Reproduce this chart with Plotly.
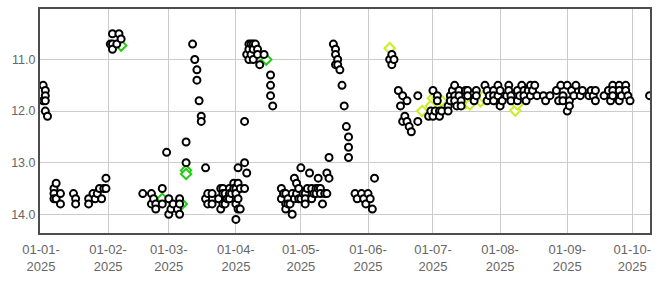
import plotly.graph_objects as go

# ---- circle series (date -> values) ----
circle_groups = [
    ("2025-01-02", [11.5, 11.8]), ("2025-01-03", [11.6, 11.7, 11.8, 12.0]), ("2025-01-04", [12.1]),
    ("2025-01-07", [13.5, 13.6, 13.7]), ("2025-01-08", [13.4, 13.7]), ("2025-01-10", [13.6, 13.8]),
    ("2025-01-16", [13.6]), ("2025-01-17", [13.7, 13.8]), ("2025-01-23", [13.7, 13.8]),
    ("2025-01-25", [13.6]), ("2025-01-26", [13.7]), ("2025-01-27", [13.6]), ("2025-01-28", [13.5]),
    ("2025-01-29", [13.7]), ("2025-01-30", [13.5]), ("2025-01-31", [13.3, 13.5]),
    ("2025-02-02", [10.7]), ("2025-02-03", [10.5, 10.7, 10.8]), ("2025-02-05", [10.7]),
    ("2025-02-06", [10.5]), ("2025-02-07", [10.6]),
    ("2025-02-17", [13.6]), ("2025-02-21", [13.6, 13.8]), ("2025-02-22", [13.7]),
    ("2025-02-23", [13.8, 13.9]), ("2025-02-26", [13.5, 13.8]), ("2025-02-28", [12.8]),
    ("2025-03-01", [13.7, 14.0]), ("2025-03-02", [13.9]), ("2025-03-03", [13.8]),
    ("2025-03-05", [13.9]), ("2025-03-06", [13.7, 13.8, 14.0]), ("2025-03-09", [12.6, 13.0]),
    ("2025-03-12", [10.7]), ("2025-03-13", [11.0]), ("2025-03-14", [11.2, 11.4]),
    ("2025-03-15", [11.8]), ("2025-03-16", [12.1, 12.2]),
    ("2025-03-18", [13.1, 13.7]), ("2025-03-19", [13.6, 13.8]), ("2025-03-21", [13.6, 13.8]),
    ("2025-03-24", [13.7]), ("2025-03-25", [13.5, 13.9]), ("2025-03-26", [13.5, 13.6, 13.8]),
    ("2025-03-27", [13.6, 13.8]), ("2025-03-28", [13.7]), ("2025-03-29", [13.5, 13.6, 13.7]),
    ("2025-03-30", [13.6]), ("2025-03-31", [13.4, 13.5]),
    ("2025-04-01", [13.5, 13.6, 13.8, 14.1]), ("2025-04-02", [13.1, 13.4, 13.7, 13.9]),
    ("2025-04-03", [13.5, 13.9]), ("2025-04-05", [12.2, 13.0, 13.5]), ("2025-04-06", [10.9, 13.2]),
    ("2025-04-07", [10.7, 10.8, 11.0]), ("2025-04-08", [10.7, 10.9]), ("2025-04-09", [10.7, 10.8, 11.0]),
    ("2025-04-10", [10.7]), ("2025-04-11", [10.8, 10.9]), ("2025-04-12", [11.1]), ("2025-04-14", [10.9]),
    ("2025-04-17", [11.3, 11.5, 11.7]), ("2025-04-18", [11.9]),
    ("2025-04-22", [13.5, 13.7]), ("2025-04-23", [13.6]), ("2025-04-24", [13.6, 13.8, 13.9]),
    ("2025-04-25", [13.7, 13.8]), ("2025-04-26", [13.8]), ("2025-04-27", [13.6, 14.0]),
    ("2025-04-28", [13.3, 13.7]), ("2025-04-29", [13.4, 13.6]), ("2025-04-30", [13.5, 13.7]),
    ("2025-05-01", [13.1, 13.7]), ("2025-05-02", [13.6]), ("2025-05-03", [13.6, 13.7, 13.8]),
    ("2025-05-04", [13.5]), ("2025-05-05", [13.2]), ("2025-05-06", [13.5, 13.7]),
    ("2025-05-07", [13.6]), ("2025-05-08", [13.5, 13.6]), ("2025-05-09", [13.3, 13.5]),
    ("2025-05-10", [13.5, 13.6]), ("2025-05-11", [13.8]), ("2025-05-12", [13.6]),
    ("2025-05-13", [13.2, 13.6]), ("2025-05-14", [12.9, 13.3]),
    ("2025-05-16", [10.7]), ("2025-05-17", [10.8, 10.9, 11.1]), ("2025-05-18", [11.0, 11.1]),
    ("2025-05-19", [11.2]), ("2025-05-20", [11.5]), ("2025-05-21", [11.9]), ("2025-05-22", [12.3]),
    ("2025-05-23", [12.5, 12.7, 12.9]),
    ("2025-05-26", [13.6]), ("2025-05-27", [13.7]), ("2025-05-29", [13.6]), ("2025-05-30", [13.7]),
    ("2025-05-31", [13.8]), ("2025-06-01", [13.6]), ("2025-06-02", [13.7]), ("2025-06-03", [13.9]),
    ("2025-06-04", [13.3]),
    ("2025-06-11", [11.0]), ("2025-06-12", [10.9, 11.1]), ("2025-06-13", [11.0]),
    ("2025-06-15", [11.6]), ("2025-06-16", [11.9]), ("2025-06-17", [11.7, 12.2]), ("2025-06-18", [12.1]),
    ("2025-06-19", [11.8, 12.2]), ("2025-06-20", [12.3]), ("2025-06-21", [12.4]),
    ("2025-06-24", [11.7, 12.2]), ("2025-06-29", [12.1]), ("2025-06-30", [12.0]),
    ("2025-07-01", [11.6, 12.1]), ("2025-07-02", [12.0]), ("2025-07-03", [11.7, 11.8]),
    ("2025-07-04", [12.0, 12.1]), ("2025-07-05", [12.0]), ("2025-07-08", [11.9, 12.0]),
    ("2025-07-09", [11.7, 11.8]), ("2025-07-10", [11.6]), ("2025-07-11", [11.5, 11.7, 11.8]),
    ("2025-07-12", [11.9]), ("2025-07-13", [11.6, 11.7]), ("2025-07-14", [11.8, 11.9]),
    ("2025-07-16", [11.6]), ("2025-07-17", [11.6, 11.7]), ("2025-07-20", [11.8]),
    ("2025-07-21", [11.6, 11.7]), ("2025-07-25", [11.5]), ("2025-07-26", [11.6, 11.8]),
    ("2025-07-27", [11.7]), ("2025-07-29", [11.6, 11.7, 11.8]), ("2025-07-31", [11.5, 11.7]),
    ("2025-08-01", [11.6, 11.9]), ("2025-08-02", [11.8]), ("2025-08-04", [11.7]),
    ("2025-08-05", [11.5, 11.6]), ("2025-08-06", [11.7, 11.8]), ("2025-08-09", [11.6, 11.8]),
    ("2025-08-10", [11.7]), ("2025-08-11", [11.5]), ("2025-08-12", [11.6, 11.7]),
    ("2025-08-13", [11.8]), ("2025-08-14", [11.6]), ("2025-08-15", [11.5, 11.7]),
    ("2025-08-16", [11.6]), ("2025-08-17", [11.5]), ("2025-08-18", [11.7]),
    ("2025-08-21", [11.7]), ("2025-08-22", [11.8]), ("2025-08-24", [11.7]), ("2025-08-27", [11.6]),
    ("2025-08-28", [11.8]), ("2025-08-29", [11.5]), ("2025-08-30", [11.7, 11.8]),
    ("2025-09-01", [11.5, 12.0]), ("2025-09-02", [11.8, 11.9]), ("2025-09-03", [11.6]),
    ("2025-09-04", [11.7]), ("2025-09-05", [11.5]), ("2025-09-07", [11.7]), ("2025-09-08", [11.6]),
    ("2025-09-11", [11.7]), ("2025-09-12", [11.6]), ("2025-09-13", [11.7]), ("2025-09-14", [11.6, 11.8]),
    ("2025-09-18", [11.7]), ("2025-09-20", [11.6]), ("2025-09-21", [11.8]),
    ("2025-09-22", [11.5, 11.6, 11.7]), ("2025-09-25", [11.5, 11.6, 11.8]), ("2025-09-26", [11.7]),
    ("2025-09-28", [11.5, 11.6]), ("2025-09-29", [11.7]), ("2025-09-30", [11.8]),
    ("2025-10-09", [11.7]),
]
circle_dates = [d for d, vals in circle_groups for _ in vals]
circle_values = [v for _, vals in circle_groups for v in vals]

# ---- green diamond series ----
green_dates = ["2025-02-07", "2025-02-26", "2025-03-07", "2025-03-09", "2025-03-09", "2025-04-15"]
green_values = [10.73, 13.7, 13.8, 13.15, 13.22, 11.0]

# ---- yellow-green diamond series ----
yellow_dates = ["2025-06-11", "2025-06-26", "2025-06-30", "2025-07-01", "2025-07-03", "2025-07-05",
                "2025-07-15", "2025-07-16", "2025-07-18", "2025-07-23", "2025-07-24",
                "2025-08-08", "2025-08-09"]
yellow_values = [10.78, 12.0, 11.9, 11.75, 11.75, 11.8,
                 11.72, 11.85, 11.87, 11.81, 11.72,
                 11.99, 11.87]

fig = go.Figure()
fig.add_trace(go.Scatter(x=green_dates, y=green_values, mode="markers",
                         marker=dict(symbol="diamond", size=8, color="white",
                                     line=dict(color="#22cc11", width=2))))
fig.add_trace(go.Scatter(x=yellow_dates, y=yellow_values, mode="markers",
                         marker=dict(symbol="diamond", size=8, color="white",
                                     line=dict(color="#c8f020", width=2))))
fig.add_trace(go.Scatter(x=circle_dates, y=circle_values, mode="markers",
                         marker=dict(symbol="circle", size=7, color="white",
                                     line=dict(color="black", width=2))))

tickfont = dict(family="Liberation Sans, Arial, sans-serif", size=13, color="#666666")
fig.update_layout(
    width=662, height=281,
    margin=dict(l=40, r=12, t=7, b=39),
    paper_bgcolor="white", plot_bgcolor="white",
    showlegend=False,
    xaxis=dict(range=["2024-12-31 13:00", "2025-10-09 05:00"], type="date",
               dtick="M1", tick0="2025-01-01", tickformat="%d-%m-<br>%Y",
               showgrid=True, gridcolor="#cccccc", gridwidth=1,
               showline=True, linecolor="#4d4d4d", linewidth=2, mirror=True,
               ticks="outside", ticklen=3, tickcolor="rgba(0,0,0,0)",
               tickfont=tickfont, zeroline=False),
    yaxis=dict(range=[14.364, 10.02], dtick=1, tickformat=".1f",
               showgrid=True, gridcolor="#cccccc", gridwidth=1,
               showline=True, linecolor="#4d4d4d", linewidth=2, mirror=True,
               ticks="", tickfont=dict(family="Liberation Sans, Arial, sans-serif", size=12.5, color="#666666"),
               zeroline=False),
)
fig.write_html("out.html")
